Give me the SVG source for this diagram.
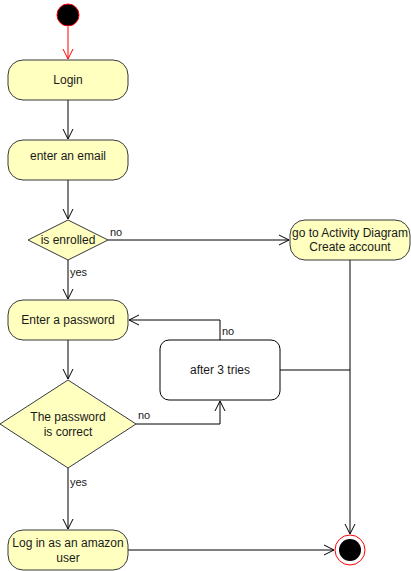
<svg xmlns="http://www.w3.org/2000/svg" width="411" height="571" viewBox="0 0 411 571">
<style>
.act{fill:#ffffc0;stroke:#36393d;stroke-width:1}
.plain{fill:#ffffff;stroke:#000;stroke-width:1}
.t{font-family:"Liberation Sans",Arial,sans-serif;font-size:12px;fill:#1a1a1a;text-anchor:middle;dominant-baseline:central}
.lbl{font-family:"Liberation Sans",Arial,sans-serif;font-size:11px;fill:#1a1a1a}
.e{fill:none;stroke:#000;stroke-width:1}
</style>
<defs>
<marker id="ar" markerUnits="userSpaceOnUse" markerWidth="12" markerHeight="12" refX="10" refY="6" orient="auto">
<path d="M0,1 L10,6 L0,11" fill="none" stroke="#000" stroke-width="1"/>
</marker>
<marker id="arr" markerUnits="userSpaceOnUse" markerWidth="12" markerHeight="12" refX="10" refY="6" orient="auto">
<path d="M0,1 L10,6 L0,11" fill="none" stroke="#ff0000" stroke-width="1"/>
</marker>
</defs>
<g id="edges">
<path class="e" d="M68,27 L68,59" stroke="#ff0000" style="stroke:#ff0000" marker-end="url(#arr)"/>
<path class="e" d="M68,100 L68,139" marker-end="url(#ar)"/>
<path class="e" d="M68,180 L68,219" marker-end="url(#ar)"/>
<path class="e" d="M108,240 L289,240" marker-end="url(#ar)"/>
<path class="e" d="M68,260 L68,299" marker-end="url(#ar)"/>
<path class="e" d="M68,340 L68,379" marker-end="url(#ar)"/>
<path class="e" d="M136,424 L220,424 L220,401" marker-end="url(#ar)"/>
<path class="e" d="M220,340 L220,320 L129,320" marker-end="url(#ar)"/>
<path class="e" d="M350,260 L350,534" marker-end="url(#ar)"/>
<path class="e" d="M280,370 L350,370"/>
<path class="e" d="M68,468 L68,529" marker-end="url(#ar)"/>
<path class="e" d="M128,550 L334,550" marker-end="url(#ar)"/>
<text class="lbl" x="110" y="236">no</text>
<text class="lbl" x="70" y="276">yes</text>
<text class="lbl" x="222" y="335">no</text>
<text class="lbl" x="138" y="419">no</text>
<text class="lbl" x="70" y="486">yes</text>
</g>
<g id="start">
<circle cx="68" cy="15" r="11" fill="#000" stroke="#ff0000" stroke-width="1"/>
</g>
<g id="login">
<rect class="act" x="8" y="60" width="120" height="40" rx="15" ry="15"/>
<text class="t" x="68" y="80">Login</text>
</g>
<g id="email">
<rect class="act" x="8" y="140" width="120" height="40" rx="15" ry="15"/>
<text class="t" x="68" y="156">enter an email</text>
</g>
<g id="enrolled">
<polygon class="act" points="68,220 108,240 68,260 28,240"/>
<text class="t" x="68" y="240">is enrolled</text>
</g>
<g id="create">
<rect class="act" x="290" y="220" width="120" height="40" rx="15" ry="15"/>
<text class="t" x="350" y="233">go to Activity Diagram</text>
<text class="t" x="350" y="247">Create account</text>
</g>
<g id="password">
<rect class="act" x="8" y="300" width="120" height="40" rx="15" ry="15"/>
<text class="t" x="68" y="320">Enter a password</text>
</g>
<g id="tries">
<rect class="plain" x="160" y="340" width="120" height="60" rx="9" ry="9"/>
<text class="t" x="220" y="370">after 3 tries</text>
</g>
<g id="correct">
<polygon class="act" points="68,380 136,424 68,468 0,424"/>
<text class="t" x="68" y="417">The password</text>
<text class="t" x="68" y="432">is correct</text>
</g>
<g id="loggedin">
<rect class="act" x="8" y="530" width="120" height="40" rx="15" ry="15"/>
<text class="t" x="68" y="543">Log in as an amazon</text>
<text class="t" x="68" y="558">user</text>
</g>
<g id="end">
<circle cx="350" cy="550" r="15" fill="#fff" stroke="#ff0000" stroke-width="1"/>
<circle cx="350" cy="550" r="11" fill="#000"/>
</g>
</svg>
